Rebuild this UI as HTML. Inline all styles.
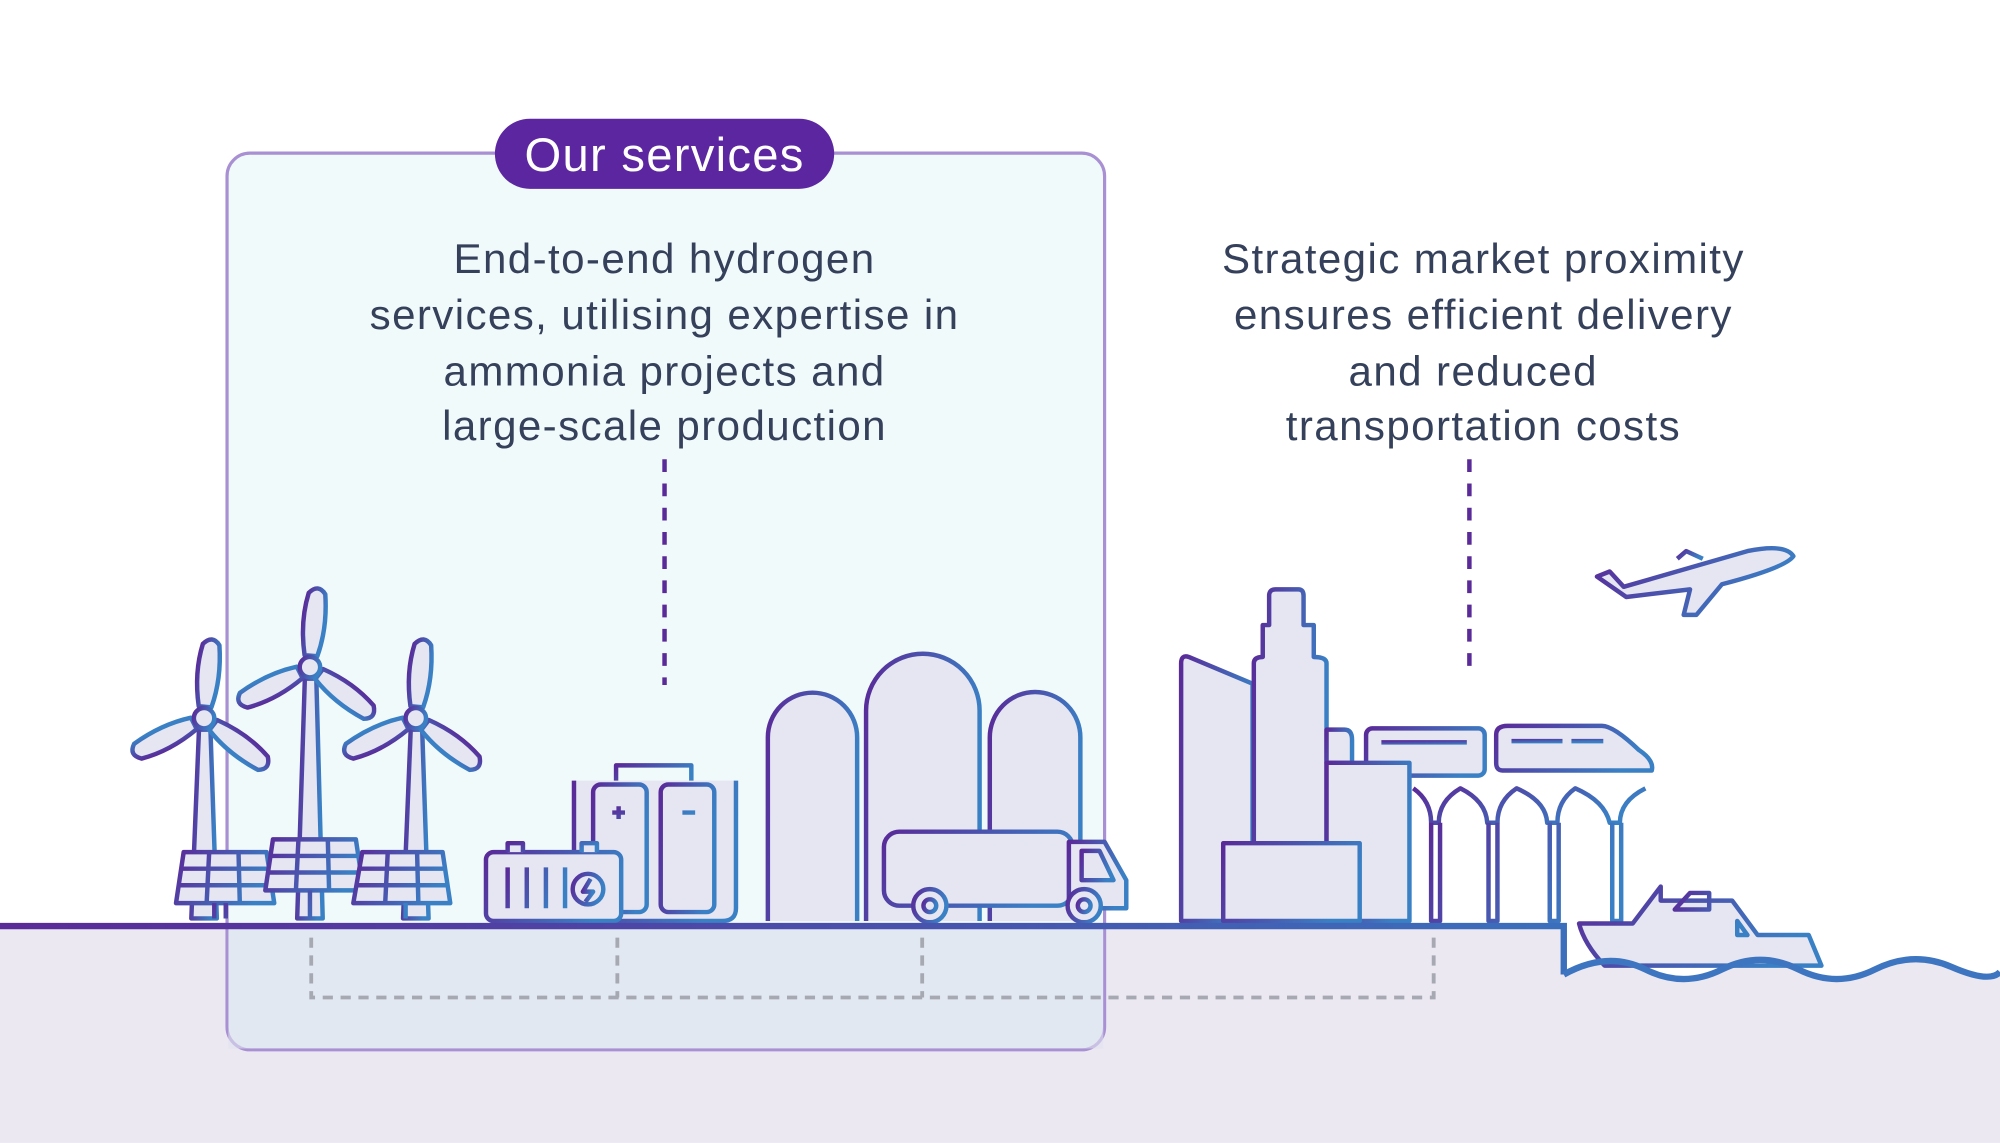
<!DOCTYPE html>
<html><head><meta charset="utf-8"><style>
html,body{margin:0;padding:0;background:#fff;}
svg{display:block;}
</style></head><body>
<svg width="2000" height="1143" viewBox="0 0 1568 896" xmlns="http://www.w3.org/2000/svg">
<defs>
<linearGradient id="g" x1="0" y1="0" x2="1" y2="0.3">
<stop offset="0" stop-color="#5a2a98"/><stop offset="1" stop-color="#3a80c4"/>
</linearGradient>
<linearGradient id="gl" x1="0" y1="0" x2="1" y2="0">
<stop offset="0" stop-color="#5a2a98"/><stop offset="1" stop-color="#3b6fbc"/>
</linearGradient>
<g id="blade"><path d="M-5,-9 Q-11,-35 -6,-58 Q1,-66 7,-58 Q11,-32 5,-9 Z"/></g>
</defs>
<rect width="1568" height="896" fill="#fff"/>
<path d="M0,726 H1226 V762 Q1260,745 1290,760 T1350,760 T1410,760 T1470,760 T1530,758 T1568,762 V896 H0 Z" fill="#ebe8f2"/>
<rect x="178" y="120" width="688" height="703" rx="18" fill="#e3f5f8" fill-opacity="0.5" stroke="#a890d2" stroke-width="2.5"/>
<rect x="179" y="728" width="686" height="94" fill="#dfe2ef" fill-opacity="0.6"/>
<rect x="388" y="93" width="266" height="55" rx="27.5" fill="#5b26a0"/>
<text x="521" y="134" text-anchor="middle" font-family="Liberation Sans, sans-serif" font-size="37" letter-spacing="1" fill="#fff">Our services</text>
<g font-family="Liberation Sans, sans-serif" font-size="33" letter-spacing="1.1" fill="#35405b" text-anchor="middle">
<text x="521" y="214">End-to-end hydrogen</text>
<text x="521" y="258">services, utilising expertise in</text>
<text x="521" y="302">ammonia  projects and</text>
<text x="521" y="345">large-scale production</text>
<text x="1163" y="214">Strategic market proximity</text>
<text x="1163" y="258">ensures  efficient delivery</text>
<text x="1155" y="302">and reduced</text>
<text x="1163" y="345">transportation costs</text>
</g>
<line x1="521" y1="360" x2="521" y2="537" stroke="#5a2a98" stroke-width="3.5" stroke-dasharray="10,9"/>
<line x1="1152" y1="360" x2="1152" y2="527" stroke="#5a2a98" stroke-width="3.5" stroke-dasharray="10,9"/>
<g stroke="#a6a8b2" stroke-width="3" fill="none" stroke-dasharray="8,6">
<path d="M244,735 V782 H1124 V735"/>
<path d="M484,735 V782 M723,735 V782"/>
</g>
<g fill="#e6e6f3" stroke="url(#g)" stroke-width="3.5" stroke-linejoin="round">
<path d="M150,720 L156,572 H165 L170,720 Z"/>
<path d="M233,720 L239,532 H248 L253,720 Z"/>
<path d="M316,720 L322,572 H331 L336,720 Z"/>
<g transform="translate(160,563) rotate(5)"><use href="#blade"/><use href="#blade" transform="rotate(122)"/><use href="#blade" transform="rotate(238)"/><circle r="8"/></g>
<g transform="translate(243,523) rotate(5)"><use href="#blade"/><use href="#blade" transform="rotate(122)"/><use href="#blade" transform="rotate(238)"/><circle r="8"/></g>
<g transform="translate(326,563) rotate(5)"><use href="#blade"/><use href="#blade" transform="rotate(122)"/><use href="#blade" transform="rotate(238)"/><circle r="8"/></g>
<path d="M144,668 H209 L215,708 H138 Z"/><path d="M141,681 H211 M140,694 H213 M164,668 L162,708 M187,668 L188,708" fill="none"/>
<path d="M214,658 H279 L285,698 H208 Z"/><path d="M211,671 H281 M210,684 H283 M234,658 L232,698 M257,658 L258,698" fill="none"/>
<path d="M284,668 H347 L353,708 H277 Z"/><path d="M281,681 H349 M280,694 H351 M304,668 L302,708 M327,668 L328,708" fill="none"/>
<path d="M168,708 V720 M177,708 V720 M243,698 V720 M318,708 V720"/>
<path d="M450,612 V712 Q450,722 460,722 H566 Q577,722 577,712 V612"/>
<path d="M483,612 V600 H542 V612" fill="none"/>
<rect x="465" y="615" width="42" height="100" rx="6"/><rect x="518" y="615" width="42" height="100" rx="6"/>
<path d="M480,637 H490 M485,632 V642 M535,637 H545" fill="none"/>
<rect x="381" y="668" width="106" height="54" rx="6"/>
<path d="M398,668 V661 H410 V668 M456,668 V661 H468 V668"/>
<path d="M398,680 V712 M413,680 V712 M428,680 V712 M443,680 V712" fill="none"/>
<circle cx="461" cy="697" r="12"/>
<path d="M463,689 L457,699 H465 L459,707" fill="none"/>
<path d="M602,722 V578 A35,35 0 0 1 672,578 V722"/>
<path d="M679,722 V557 A44.5,44.5 0 0 1 768,557 V722"/>
<path d="M776,722 V578 A35.5,35.5 0 0 1 847,578 V722"/>
<rect x="693" y="652" width="148" height="58" rx="12"/>
<path d="M838,660 H866 L883,690 V712 H838 Z"/>
<path d="M848,667 H862 L873,690 H848 Z" fill="none"/>
<circle cx="729" cy="710" r="13"/><circle cx="729" cy="710" r="5"/>
<circle cx="850" cy="710" r="13"/><circle cx="850" cy="710" r="5"/>
<path d="M926,722 V520 Q926,513 932,515 L982,536 V722 Z"/>
<path d="M983,722 V520 Q983,515 990,515 V490 H995 V467 Q995,462 1000,462 H1018 Q1022,462 1022,467 V490 H1030 V515 Q1040,515 1040,520 V722 Z"/>
<path d="M1040,572 H1054 Q1060,572 1060,580 V598 H1040 Z"/>
<rect x="1071" y="571" width="93" height="37" rx="5"/>
<path d="M1173,576 Q1173,569 1182,569 H1256 Q1265,569 1285,588 Q1297,596 1295,604 H1178 Q1173,604 1173,598 Z"/>
<path d="M1083,582 H1150 M1185,581 H1225 M1232,581 H1257" fill="none"/>
<rect x="1040" y="598" width="65" height="124"/>
<rect x="959" y="661" width="107" height="61"/>
<path d="M1105,616 H1312" fill="none"/>
<path d="M1108,618 Q1122,628 1122,645 H1128 Q1128,628 1145,618 Q1165,628 1166,645 H1174 Q1174,628 1189,618 Q1212,628 1213,645 H1221 Q1221,628 1235,618 Q1258,628 1262,645 H1270 Q1270,628 1290,618" fill="none"/>
<path d="M1122,645 V722 H1129 V645 M1167,645 V722 H1174 V645 M1215,645 V722 H1222 V645 M1264,645 V722 H1271 V645" fill="none"/>
<path d="M1252,452 L1262,448 L1273,460 L1370,432 Q1400,426 1406,436 Q1400,445 1350,458 L1330,482 H1320 L1325,462 L1275,468 Z"/>
<path d="M1315,438 L1322,432 L1335,438" fill="none"/>
<path d="M1238,724 H1280 L1302,695 V706 H1358 L1378,733 H1418 L1428,757 H1258 Q1242,740 1238,724 Z"/>
<path d="M1313,713 L1325,700 H1340 V713 Z M1362,722 L1370,733 H1362 Z" fill="none"/>
</g>
<path d="M0,726 H1226 V764" fill="none" stroke="url(#gl)" stroke-width="5"/>
<path d="M1226,764 Q1260,745 1290,760 T1350,760 T1410,760 T1470,760 T1530,758 T1568,762" fill="none" stroke="#3d75c0" stroke-width="5"/>
</svg>
</body></html>
